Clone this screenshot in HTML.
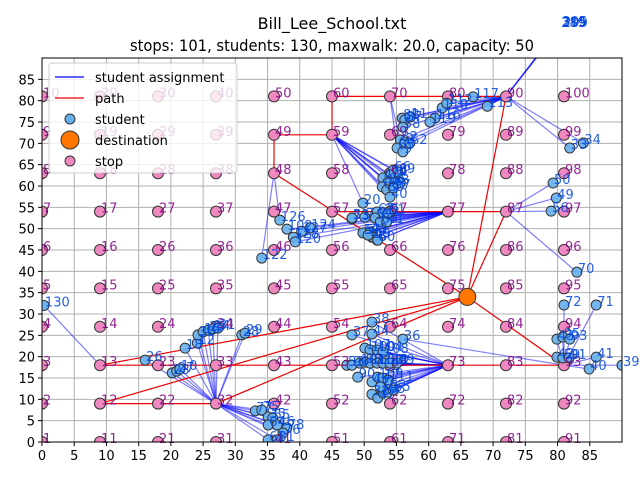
<!DOCTYPE html>
<html><head><meta charset="utf-8"><style>
html,body{margin:0;padding:0;background:#fff;}
svg{display:block;font-family:"DejaVu Sans","Liberation Sans",sans-serif;}
</style></head><body>
<svg id="chart" width="640" height="480" viewBox="0 0 640 480" xmlns="http://www.w3.org/2000/svg">
<defs><clipPath id="plotclip"><rect x="42" y="58" width="580" height="384"/></clipPath></defs>
<rect width="640" height="480" fill="#fff"/>
<text x="332" y="29" font-size="16" text-anchor="middle">Bill_Lee_School.txt</text>
<text x="332" y="51" font-size="16" text-anchor="middle" textLength="404" lengthAdjust="spacingAndGlyphs">stops: 101, students: 130, maxwalk: 20.0, capacity: 50</text>
<g id="grid"></g>
<g id="plot" clip-path="url(#plotclip)"></g>
<g id="labels"></g>
<rect x="42" y="58" width="580" height="384" fill="none" stroke="#000" stroke-width="1"/>
<g id="ticks"></g>
<g>
<rect x="49" y="63" width="188" height="110" rx="3" fill="#fff" fill-opacity="0.8" stroke="#ccc"/>
<line x1="55" y1="77" x2="84" y2="77" stroke="#0000ff" stroke-width="1.2"/>
<text x="95" y="82" font-size="13">student assignment</text>
<line x1="55" y1="98" x2="84" y2="98" stroke="#ee0000" stroke-width="1.2"/>
<text x="95" y="103" font-size="13">path</text>
<circle cx="70" cy="119" r="5" fill="#66b0ee" stroke="#333"/>
<text x="95" y="124" font-size="13">student</text>
<circle cx="70" cy="140" r="9" fill="#ff7700" stroke="#333"/>
<text x="95" y="145" font-size="13">destination</text>
<circle cx="70" cy="161" r="5" fill="#f088c0" stroke="#333"/>
<text x="95" y="166" font-size="13">stop</text>
</g>
</svg>
<script>
const xTicks = [0,5,10,15,20,25,30,35,40,45,50,55,60,65,70,75,80,85];
const yTicks = [0,5,10,15,20,25,30,35,40,45,50,55,60,65,70,75,80,85];
const stopIds = [1,2,3,4,5,6,7,8,9,10,11,12,13,14,15,16,17,18,19,20,21,22,23,24,25,26,27,28,29,30,31,32,33,34,35,36,37,38,39,40,41,42,43,44,45,46,47,48,49,50,51,52,53,54,55,56,57,58,59,60,61,62,63,64,65,66,67,68,69,70,71,72,73,74,75,76,77,78,79,80,81,82,83,84,85,86,87,88,89,90,91,92,93,94,95,96,97,98,99,100];
const stopSpacing = 9;
const destination = [66,34];
const pathSegments = [[59,60],[60,70],[70,80],[80,90],[49,59],[48,49],[57,77],[77,87],[13,23],[23,33],[33,43],[43,53],[53,63],[63,73],[73,83],[83,93],[12,22],[22,32]];
const pathToDest = [90,87,48,93,13,12,32];
const studentX = [0.3,34.1,36.9,38.0,39.0,39.3,40.3,41.6,48.1,50.1,51.2,52.0,
55.9,56.3,57.1,56.0,55.6,56.3,57.1,55.1,56.0,54.5,55.2,54.0,52.9,53.7,54.8,55.6,52.8,53.5,54.5,54.0,49.8,50.1,48.1,52.0,52.9,53.7,51.7,52.5,53.5,49.8,50.9,51.4,52.1,50.6,
62.1,61.0,66.9,69.1,62.8,60.2,81.9,84.0,80.4,80.5,80.6,80.7,
51.2,48.1,51.2,56.0,50.1,50.9,52.0,52.9,47.3,48.1,49.3,50.1,50.9,52.0,52.9,54.0,55.1,49.0,51.2,52.1,52.9,53.7,51.2,52.1,52.9,53.7,54.5,52.5,
16.0,20.2,20.9,21.4,22.2,24.1,24.2,25.0,25.8,26.5,27.3,31.0,31.5,
33.1,34.1,35.1,35.8,35.1,36.5,38.0,37.4,35.1,36.5,
83.0,81.0,86.0,79.9,80.8,81.9,79.9,80.8,81.8,86.0,84.9,90.0,
79.3,79.8,79.0];
const studentY = [32.0,43.1,52.0,49.9,48.0,46.9,49.4,50.2,52.3,49.0,48.0,47.3,
75.9,75.5,76.2,73.8,70.8,70.3,70.1,68.9,68.0,63.7,63.3,62.6,61.9,60.9,60.9,60.7,59.8,59.1,59.5,57.4,56.0,52.7,52.5,53.9,53.7,53.7,52.5,51.6,51.6,49.0,49.2,48.0,47.3,48.5,
78.3,75.9,80.9,78.7,79.4,75.0,68.9,70.1,97.5,97.6,97.7,97.5,
28.1,25.1,25.3,24.1,22.0,21.6,21.6,21.1,18.0,18.0,18.5,18.7,18.5,18.5,18.5,18.5,18.5,15.2,14.1,15.2,15.0,14.5,11.2,10.3,11.5,11.7,12.2,12.9,
19.2,16.2,16.6,17.1,22.0,23.2,25.1,25.8,26.2,26.5,26.7,25.1,25.5,
7.3,7.5,5.9,5.6,4.0,4.0,3.3,2.1,0.5,0.5,
39.8,32.1,32.1,24.1,24.6,24.1,19.9,19.7,19.7,19.9,17.1,18.0,
60.7,57.2,54.1];
const studentStop = [13,48,48,77,77,77,77,77,77,77,77,77,
90,90,90,90,90,90,90,70,70,59,59,59,59,59,59,59,59,59,59,59,59,77,77,77,77,77,77,77,77,77,77,77,77,77,
90,90,90,90,90,90,90,90,90,90,90,90,
73,73,73,93,73,73,73,73,73,73,73,73,73,73,73,73,73,73,73,73,73,73,73,73,73,73,73,73,
32,32,32,32,32,32,32,32,32,32,32,32,32,
32,32,32,32,32,32,32,32,32,32,
87,93,93,93,93,93,93,93,93,93,93,93,
87,87,87];
const studentLabels = ["130","122","126","102","128","120","127","124","73","5","1","6",
"88","87","11","58","82","2","62","65","9","66","69","74","4","86","8","3","68","80","97","40","20","7","53","67","21","51","52","63","41","57","48","49","60","19",
"118","116","117","113","112","119","33","34","289","315","305","299",
"38","37","44","36","107","100","104","108","53","99","101","98","105","103","110","83","89","90","45","109","17","111","32","47","84","85","65","16",
"26","23","27","10","18","12","30","15","25","14","31","28","29",
"77","75","35","55","64","46","78","76","61","81",
"70","72","71","43","95","93","42","59","91","41","40","39",
"50","49","56"];
const X0=42, X1=622, Y0=442, Y1=58, XMAX=90, YMAX=90;
function sx(v){return X0+(X1-X0)*v/XMAX;}
function sy(v){return Y0-(Y0-Y1)*v/YMAX;}
const NS="http://www.w3.org/2000/svg";
function mk(tag,attrs,parent){const e=document.createElementNS(NS,tag);for(const k in attrs)e.setAttribute(k,attrs[k]);parent.appendChild(e);return e;}
function stopPos(id){const c=Math.floor((id-1)/10), r=(id-1)%10;return [c*stopSpacing, r*stopSpacing];}
const grid=document.getElementById('grid'), plot=document.getElementById('plot'), labels=document.getElementById('labels'), ticks=document.getElementById('ticks');
xTicks.forEach(t=>{
  const g=mk('line',{x1:sx(t),x2:sx(t),y1:Y1,y2:Y0,stroke:'#b0b0b0','stroke-width':1},grid);
  
  
  const tk=mk('line',{x1:sx(t),x2:sx(t),y1:Y0,y2:Y0+4,stroke:'#000'},ticks);
  
  
  const tl=mk('text',{x:sx(t),y:Y0+18,'font-size':13,'text-anchor':'middle'},ticks);
  tl.textContent=t;
  
  
});
yTicks.forEach(t=>{
  const g=mk('line',{x1:X0,x2:X1,y1:sy(t),y2:sy(t),stroke:'#b0b0b0','stroke-width':1},grid);
  
  
  const tk=mk('line',{x1:X0-4,x2:X0,y1:sy(t),y2:sy(t),stroke:'#000'},ticks);
  
  
  const tl=mk('text',{x:X0-7,y:sy(t)+5,'font-size':13,'text-anchor':'end'},ticks);
  tl.textContent=t;
  
  
});
studentX.forEach((x,i)=>{
  const p=stopPos(studentStop[i]);
  const l=mk('line',{x1:sx(x),y1:sy(studentY[i]),x2:sx(p[0]),y2:sy(p[1]),stroke:'#0000ff','stroke-opacity':0.5,'stroke-width':1.2},plot);
  
  
});
pathSegments.forEach(s=>{
  const a=stopPos(s[0]), b=stopPos(s[1]);
  const l=mk('line',{x1:sx(a[0]),y1:sy(a[1]),x2:sx(b[0]),y2:sy(b[1]),stroke:'#ee0000','stroke-width':1.2},plot);
  
  
});
pathToDest.forEach(s=>{
  const a=stopPos(s);
  const l=mk('line',{x1:sx(a[0]),y1:sy(a[1]),x2:sx(destination[0]),y2:sy(destination[1]),stroke:'#ee0000','stroke-width':1.2},plot);
  
  
});
stopIds.forEach(id=>{
  const p=stopPos(id);
  const c=mk('circle',{cx:sx(p[0]),cy:sy(p[1]),r:5.5,fill:'#f088c0',stroke:'#333','stroke-width':1},plot);
  
  
});
studentX.forEach((x,i)=>{
  const c=mk('circle',{cx:sx(x),cy:sy(studentY[i]),r:5,fill:'#66b0ee','fill-opacity':0.9,stroke:'#333','stroke-width':1},plot);
  
  
});
const d=mk('circle',{cx:sx(destination[0]),cy:sy(destination[1]),r:8.5,fill:'#ff7700',stroke:'#333','stroke-width':1},plot);


stopIds.forEach(id=>{
  const p=stopPos(id);
  const t=mk('text',{x:sx(p[0])+1,y:sy(p[1])+1,'font-size':13,fill:'#800080','fill-opacity':0.85},labels);
  t.textContent=id;
  
  
});
studentX.forEach((x,i)=>{
  const t=mk('text',{x:sx(x)+1,y:sy(studentY[i])+1,'font-size':13,fill:'#0044dd','fill-opacity':0.85},labels);
  t.textContent=studentLabels[i];
  
  
});
</script>
</body></html>
